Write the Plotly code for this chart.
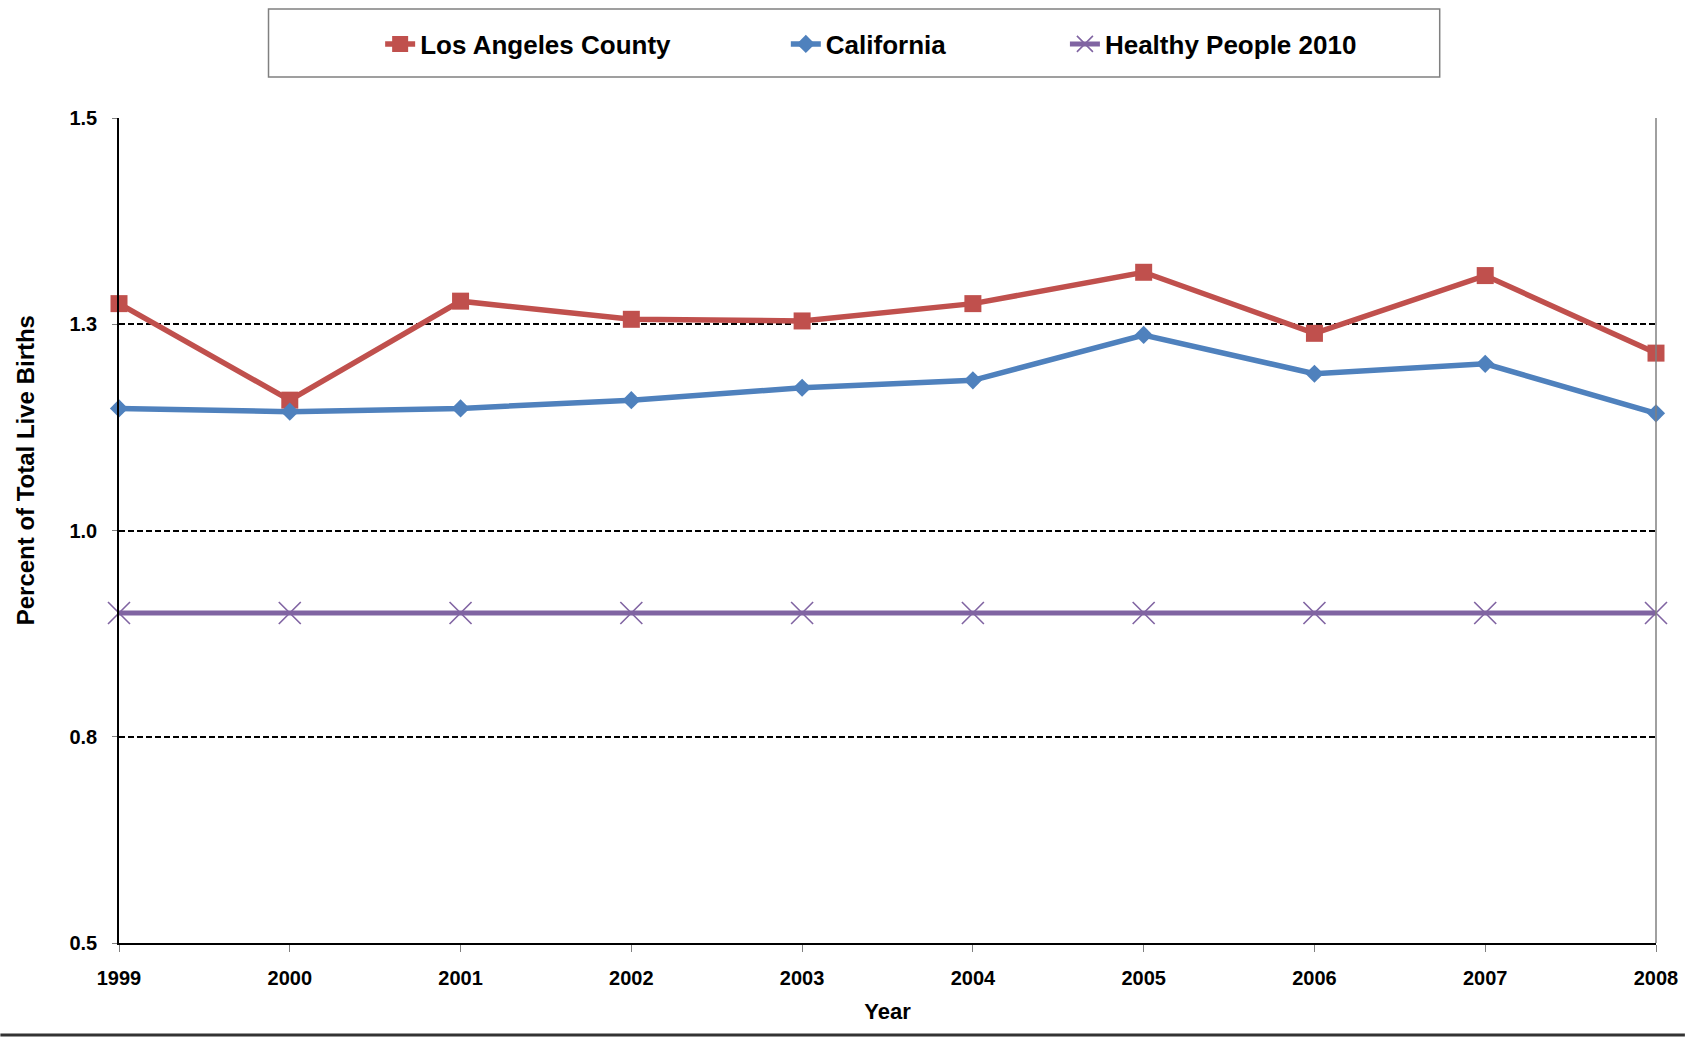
import plotly.graph_objects as go

# ---- data ----
years = [1999, 2000, 2001, 2002, 2003, 2004, 2005, 2006, 2007, 2008]
los_angeles = [1.275, 1.158, 1.278, 1.256, 1.254, 1.275, 1.313, 1.239, 1.309, 1.215]
california = [1.148, 1.144, 1.148, 1.158, 1.173, 1.182, 1.237, 1.190, 1.202, 1.142]
healthy_people_2010 = [0.9, 0.9, 0.9, 0.9, 0.9, 0.9, 0.9, 0.9, 0.9, 0.9]
series_names = ["Los Angeles County", "California", "Healthy People 2010"]
y_tickvals = [0.5, 0.75, 1.0, 1.25, 1.5]
y_ticktext = ["0.5", "0.8", "1.0", "1.3", "1.5"]
x_ticktext = ["1999", "2000", "2001", "2002", "2003", "2004", "2005", "2006", "2007", "2008"]

# ---- geometry ----
W, H = 1690, 1037
L, R, T, B = 119, 29, 118, 94
PW, PH = W - L - R, H - T - B


def px_x(p):
    return (p - L) / PW


def px_y(p):
    return (H - B - p) / PH


FONT = "Liberation Sans, Arial, sans-serif"
RED, BLUE, PURPLE = "#C0504D", "#4F81BD", "#8064A2"

fig = go.Figure()
fig.add_trace(go.Scatter(
    x=years, y=los_angeles, name=series_names[0], mode="lines+markers",
    line=dict(color=RED, width=5.5),
    marker=dict(symbol="square", size=17, color=RED),
    cliponaxis=False, legend="legend"))
fig.add_trace(go.Scatter(
    x=years, y=california, name=series_names[1], mode="lines+markers",
    line=dict(color=BLUE, width=5.5),
    marker=dict(symbol="diamond", size=14, color=BLUE),
    cliponaxis=False, legend="legend2"))
fig.add_trace(go.Scatter(
    x=years, y=healthy_people_2010, name=series_names[2], mode="lines+markers",
    line=dict(color=PURPLE, width=5),
    marker=dict(symbol="x-thin", size=22, color=PURPLE,
                line=dict(color=PURPLE, width=1.6)),
    cliponaxis=False, legend="legend3"))

leg_common = dict(orientation="h", xanchor="left", yanchor="middle",
                  y=px_y(44), bgcolor="rgba(0,0,0,0)",
                  font=dict(family=FONT, size=26, color="black", weight="bold"))

fig.update_layout(
    autosize=True,
    margin=dict(l=L, r=R, t=T, b=B),
    paper_bgcolor="white", plot_bgcolor="white",
    font=dict(family=FONT, color="black"),
    legend=dict(x=px_x(381), **leg_common),
    legend2=dict(x=px_x(788), **leg_common),
    legend3=dict(x=px_x(1068), **leg_common),
    xaxis=dict(
        range=[1999, 2008], tickvals=years, ticktext=x_ticktext,
        showgrid=False, zeroline=False,
        showline=True, linecolor="black", linewidth=1.5,
        ticks="outside", ticklen=7, tickcolor="#808080", tickwidth=1,
        ticklabelstandoff=9,
        tickfont=dict(family=FONT, size=20, color="black", weight="bold"),
        title=dict(text="Year", standoff=16,
                   font=dict(family=FONT, size=22, color="black", weight="bold")),
    ),
    yaxis=dict(
        range=[0.5, 1.5], tickvals=y_tickvals, ticktext=y_ticktext,
        showgrid=True, gridcolor="black", gridwidth=2, griddash="6px,3px",
        zeroline=False,
        showline=True, linecolor="black", linewidth=1.5,
        ticks="outside", ticklen=5, tickcolor="#808080", tickwidth=1,
        ticklabelstandoff=11,
        tickfont=dict(family=FONT, size=20, color="black", weight="bold"),
    ),
    showlegend=True,
)

# y-axis title (placed as in the reference, above the plot centre)
fig.add_annotation(
    text="Percent of Total Live Births", textangle=-90,
    xref="paper", yref="paper", x=px_x(25), y=px_y(470),
    xanchor="center", yanchor="middle", showarrow=False,
    font=dict(family=FONT, size=24, color="black", weight="bold"))

# right plot border (gray)
fig.add_shape(type="line", xref="paper", yref="paper", x0=1, x1=1, y0=0, y1=1,
              line=dict(color="#808080", width=1.5))
# legend box
fig.add_shape(type="rect", xref="paper", yref="paper",
              x0=px_x(269), x1=px_x(1444), y0=px_y(77), y1=px_y(9),
              line=dict(color="#808080", width=1.5), fillcolor="rgba(0,0,0,0)")
# bottom border line of the image
fig.add_shape(type="line", xref="paper", yref="paper",
              x0=px_x(0), x1=px_x(W), y0=px_y(1035), y1=px_y(1035),
              line=dict(color="#333333", width=3))

post = (
    "document.documentElement.style.height='100%';"
    "document.documentElement.style.margin='0';"
    "document.body.style.height='100%';"
    "document.body.style.margin='0';"
    "document.body.style.overflow='hidden';"
    "var gd=document.getElementById('{plot_id}');"
    "if(gd && gd.parentElement){gd.parentElement.style.height='100%';}"
    "Plotly.Plots.resize(gd);"
)
fig.write_html("out.html", config={"displayModeBar": False},
               default_width="100%", default_height="100%", post_script=post)
